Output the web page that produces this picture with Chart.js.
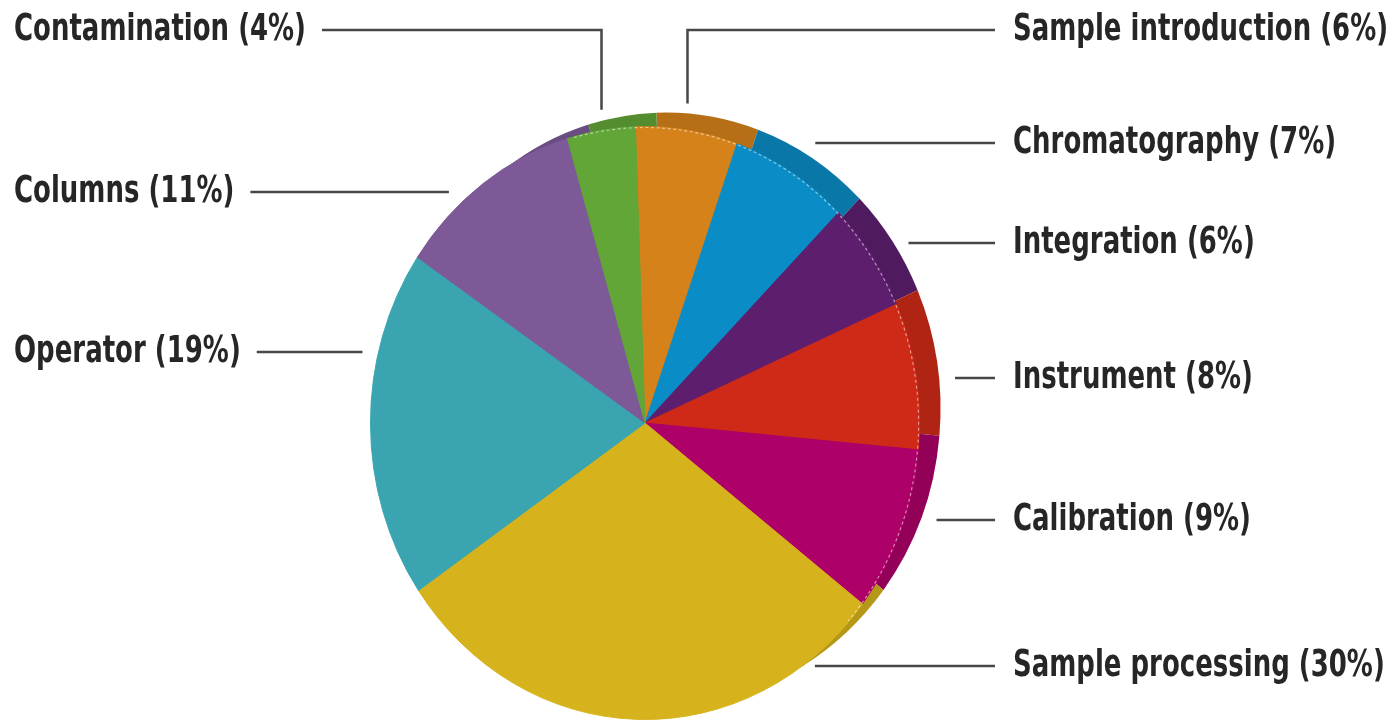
<!DOCTYPE html>
<html>
<head>
<meta charset="utf-8">
<script src="https://cdn.jsdelivr.net/npm/chart.js@4/dist/chart.umd.min.js"></script>
<style>
  html, body { margin: 0; padding: 0; background: #fff; }
  #wrap { width: 1393px; height: 721px; position: relative; }
</style>
</head>
<body>
<div id="wrap"><canvas id="pie" width="1393" height="721"></canvas></div>
<script>
// Sources of error, share in percent (clockwise from the top)
const categories = ['Sample introduction', 'Chromatography', 'Integration', 'Instrument',
                    'Calibration', 'Sample processing', 'Operator', 'Columns', 'Contamination'];
const shares = [6, 7, 6, 8, 9, 30, 19, 11, 4];
const colors = ['#d6821a', '#0a8cc6', '#5e1e6e', '#cf2a17', '#ad0068',
                '#d6b31c', '#3aa5b0', '#7d5a97', '#62a637'];

// label layout (which side, vertical position, gap between leader and pie)
const labelSide = ['right', 'right', 'right', 'right', 'right', 'right', 'left', 'left', 'left'];
const labelY    = [30, 143, 243, 378, 520, 666, 352, 192, 30];
const leaderGap = [10, 28, 15, 16, 16, 12, 16, 24, 11];
const fromTop   = [true, false, false, false, false, false, false, false, true];

const SX = 275 / 297;              // squash the disc into an ellipse
const RIM = { dx: 21, dy: -14 };   // offset of the back face (3d rim)

function darken(hex, f) {
  const n = parseInt(hex.slice(1), 16);
  const r = Math.round(((n >> 16) & 255) * f);
  const g = Math.round(((n >> 8) & 255) * f);
  const b = Math.round((n & 255) * f);
  return `rgb(${r},${g},${b})`;
}

function labelText(i) {
  return categories[i] + ' (' + shares[i] + '%)';
}

const pie3d = {
  id: 'pie3d',
  beforeDatasetsDraw(chart) {
    const arcs = chart.getDatasetMeta(0).data;
    const cx = arcs[0].x, cy = arcs[0].y, r = arcs[0].outerRadius;
    const ctx = chart.ctx;
    ctx.save();
    ctx.translate(cx, cy); ctx.scale(SX, 1); ctx.translate(-cx, -cy);
    // back face, visible as a rim on the upper right
    const ox = cx + RIM.dx / SX, oy = cy + RIM.dy;
    arcs.forEach((a, i) => {
      ctx.beginPath();
      ctx.moveTo(ox, oy);
      ctx.arc(ox, oy, r, a.startAngle, a.endAngle);
      ctx.closePath();
      ctx.fillStyle = darken(colors[i], 0.85);
      ctx.fill();
    });
  },
  afterDatasetsDraw(chart) {
    const arcs = chart.getDatasetMeta(0).data;
    const cx = arcs[0].x, cy = arcs[0].y, r = arcs[0].outerRadius;
    const ctx = chart.ctx;
    ctx.save();
    ctx.setLineDash([3, 3]);
    ctx.strokeStyle = 'rgba(255,255,255,0.55)';
    ctx.lineWidth = 1.2;
    ctx.beginPath();
    ctx.arc(cx, cy, r - 1, (-15 - 90) * Math.PI / 180, (132 - 90) * Math.PI / 180);
    ctx.stroke();
    ctx.restore();
    ctx.restore(); // undo the squash from beforeDatasetsDraw
  },
  afterDraw(chart) {
    const arcs = chart.getDatasetMeta(0).data;
    const cx = arcs[0].x, cy = arcs[0].y, r = arcs[0].outerRadius;
    const rx = r * SX;
    const faces = [{ x: cx, y: cy }, { x: cx + RIM.dx, y: cy + RIM.dy }];
    const span = (d, rad) => Math.sqrt(Math.max(0, 1 - (d / rad) * (d / rad)));
    const rightEdge = y => Math.max(...faces.map(f => f.x + rx * span(y - f.y, r)));
    const leftEdge = y => cx - rx * span(y - cy, r);
    const topEdge = x => Math.min(...faces.map(f => f.y - r * span(x - f.x, rx)));

    const ctx = chart.ctx;
    ctx.save();
    ctx.font = 'bold 38px "Liberation Sans Narrow", "DejaVu Sans Condensed", "Arial Narrow", sans-serif';
    const k = 292 / ctx.measureText(labelText(8)).width;
    ctx.textBaseline = 'middle';
    ctx.fillStyle = '#262626';
    ctx.strokeStyle = '#474747';
    ctx.lineWidth = 2.5;

    arcs.forEach((a, i) => {
      const txt = labelText(i);
      const w = ctx.measureText(txt).width * k;
      const y = labelY[i];
      const tx = labelSide[i] === 'right' ? 1013 : 14;
      ctx.save();
      ctx.translate(tx, y);
      ctx.scale(k, 1);
      ctx.fillText(txt, 0, 0);
      ctx.restore();

      const lineOuter = labelSide[i] === 'right' ? tx - 18 : tx + w + 16;
      ctx.beginPath();
      if (fromTop[i]) {
        const mid = (a.startAngle + a.endAngle) / 2;
        const vx = Math.round(cx + rx * Math.cos(mid)) + 0.5;
        ctx.moveTo(lineOuter, y);
        ctx.lineTo(vx, y);
        ctx.lineTo(vx, topEdge(vx) - leaderGap[i]);
      } else {
        const ex = labelSide[i] === 'right'
          ? rightEdge(y) + leaderGap[i]
          : leftEdge(y) - leaderGap[i];
        ctx.moveTo(lineOuter, y);
        ctx.lineTo(ex, y);
      }
      ctx.stroke();
    });
    ctx.restore();
  }
};

new Chart(document.getElementById('pie'), {
  type: 'pie',
  data: {
    labels: categories,
    datasets: [{
      data: shares,
      backgroundColor: colors,
      borderColor: colors,
      borderWidth: 1
    }]
  },
  options: {
    responsive: false,
    animation: false,
    rotation: -2,
    layout: { padding: { top: 126, bottom: 1, left: 348, right: 451 } },
    plugins: {
      legend: { display: false },
      tooltip: { enabled: false }
    }
  },
  plugins: [pie3d]
});
</script>
</body>
</html>
